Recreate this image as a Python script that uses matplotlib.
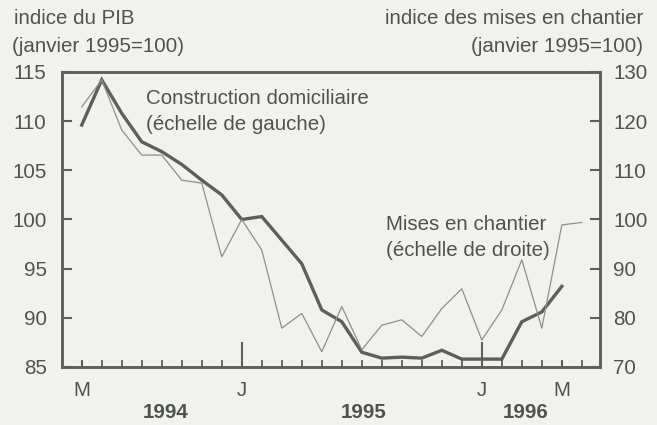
import matplotlib
matplotlib.use("Agg")
import matplotlib.pyplot as plt
import matplotlib.transforms as mtransforms

plt.rcParams['font.family'] = ['Liberation Sans', 'DejaVu Sans']

# Months: index 0 = May 1994 ... 25 = June 1996
months_constr = list(range(0, 25))
construction = [109.6, 114.2, 110.8, 107.9, 106.9, 105.6, 104.0, 102.5, 100.0, 100.3,
                97.9, 95.5, 90.8, 89.6, 86.5, 85.9, 86.0, 85.9, 86.7, 85.8,
                85.8, 85.8, 89.6, 90.6, 93.2]
months_starts = list(range(0, 26))
starts = [122.9, 128.4, 118.2, 113.1, 113.1, 108.0, 107.4, 92.4, 100.0, 93.8,
          77.9, 80.9, 73.1, 82.3, 73.5, 78.5, 79.6, 76.2, 81.9, 85.9,
          75.5, 81.6, 91.8, 77.9, 98.9, 99.4]
month_tick_pos = [0, 8, 20, 24]
month_tick_labels = ['M', 'J', 'J', 'M']
year_pos = [4.2, 14.1, 22.2]
year_labels = ['1994', '1995', '1996']

bg = '#f1f1ef'
ink = '#4f544b'
thick_c = '#5c6058'
thin_c = '#8d9189'

fig = plt.figure(figsize=(6.57, 4.25), dpi=100, facecolor=bg)
ax = fig.add_axes([0.0944, 0.1365, 0.8186, 0.6941])
ax.set_facecolor(bg)
ax2 = ax.twinx()

ax.plot(months_constr, construction, color=thick_c, lw=2.4, solid_joinstyle='miter', zorder=3)
ax2.plot(months_starts, starts, color=thin_c, lw=0.9, zorder=2)

ax.set_xlim(-0.985, 25.9)
ax.set_ylim(85, 115)
ax2.set_ylim(70, 130)

for a in (ax, ax2):
    for sp in a.spines.values():
        sp.set_linewidth(1.8)
        sp.set_color(thick_c)

fs = 14.8
ax.set_yticks([85, 90, 95, 100, 105, 110, 115])
ax.set_yticklabels(['85', '90', '95', '100', '105', '110', '115'])
ax.tick_params(axis='y', direction='in', length=7, width=1.5, color=thick_c,
               labelsize=fs, labelcolor=ink, pad=11)
ax2.set_yticks([70, 80, 90, 100, 110, 120, 130])
ax2.tick_params(axis='y', direction='in', length=7, width=1.5, color=thick_c,
                labelsize=fs, labelcolor=ink, pad=9.5)

ax.set_xticks(month_tick_pos)
ax.set_xticklabels(month_tick_labels)
ax.set_xticks(months_starts, minor=True)
ax.tick_params(axis='x', which='major', direction='in', length=5, width=1.5,
               color=thick_c, labelsize=fs, labelcolor=ink, pad=10)
ax.tick_params(axis='x', which='minor', direction='in', length=5, width=1.3, color=thick_c)
for k, t in enumerate(ax.xaxis.get_major_ticks()):
    if month_tick_labels[k] == 'J':
        t.tick1line.set_markersize(18)

trans = mtransforms.blended_transform_factory(ax.transData, fig.transFigure)
for xp, lab in zip(year_pos, year_labels):
    fig.text(xp, 1 - 413 / 425, lab, transform=trans, ha='center', va='center',
             fontsize=fs, fontweight='bold', color=ink)

fig.text(14 / 657, 1 - 19 / 425, 'indice du PIB', ha='left', va='center', fontsize=fs, color=ink)
fig.text(12 / 657, 1 - 46 / 425, '(janvier 1995=100)', ha='left', va='center', fontsize=fs, color=ink)
fig.text(643 / 657, 1 - 19 / 425, 'indice des mises en chantier', ha='right', va='center', fontsize=fs, color=ink)
fig.text(643 / 657, 1 - 46 / 425, '(janvier 1995=100)', ha='right', va='center', fontsize=fs, color=ink)

fig.text(146 / 657, 1 - 99 / 425, 'Construction domiciliaire', ha='left', va='center', fontsize=fs, color=ink)
fig.text(146 / 657, 1 - 125 / 425, '(échelle de gauche)', ha='left', va='center', fontsize=fs, color=ink)
fig.text(386 / 657, 1 - 224 / 425, 'Mises en chantier', ha='left', va='center', fontsize=fs, color=ink)
fig.text(386 / 657, 1 - 250 / 425, '(échelle de droite)', ha='left', va='center', fontsize=fs, color=ink)

fig.savefig('out.png', dpi=100, facecolor=bg)
